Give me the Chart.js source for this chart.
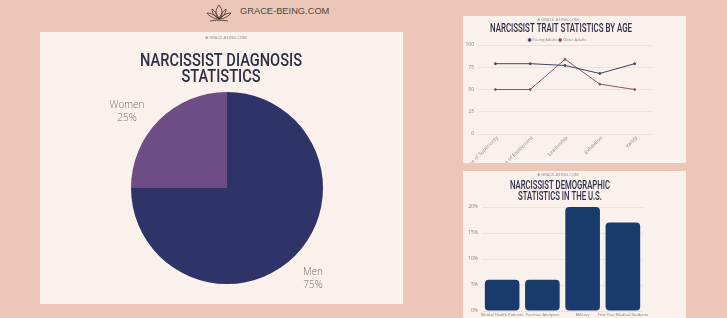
<!DOCTYPE html>
<html>
<head>
<meta charset="utf-8">
<script src="https://cdn.jsdelivr.net/npm/chart.js@4.4.0/dist/chart.umd.min.js"></script>
<style>
  body { margin: 0; width: 727px; height: 318px; overflow: hidden; background: #ecc6b7; position: relative; font-family: "Open Sans", sans-serif; }
  .panel { position: absolute; background: #fbf1ec; }
  .logo { position: absolute; color: #4d4848; font-family: "Liberation Sans", sans-serif; }
  .mini { position: absolute; font-size: 4px; color: #8a8a8a; letter-spacing: 0.1px; white-space: nowrap; }
  canvas { display: block; }
</style>
</head>
<body>

<div class="logo" style="left:204px; top:2px;">
  <svg width="30" height="22" viewBox="0 0 30 22">
    <g fill="none" stroke="#3d2b26" stroke-width="0.8">
      <path d="M15 3 C11 8 11 13 15 17 C19 13 19 8 15 3 Z"/>
      <path d="M15 17 C11 15 8 11 8 7 C11 9 13 12 15 17"/>
      <path d="M15 17 C19 15 22 11 22 7 C19 9 17 12 15 17"/>
      <path d="M15 17 C10 17 5 14 3 11 C7 11 11 13 15 17"/>
      <path d="M15 17 C20 17 25 14 27 11 C23 11 19 13 15 17"/>
      <path d="M6 19 C10 18 20 18 24 19"/>
    </g>
  </svg>
</div>
<div class="logo" style="left:240px; top:6px; font-size:9.3px;">GRACE-BEING.COM</div>

<div class="panel" style="left:40px; top:32px; width:363px; height:272px;">
  <canvas id="pieChart" width="363" height="272"></canvas>
</div>
<div class="mini" style="left:205px; top:35px;">&#10048; GRACE-BEING.COM</div>

<div class="panel" style="left:463px; top:16px; width:223px; height:147px;">
  <canvas id="lineChart" width="223" height="147"></canvas>
</div>
<div class="mini" style="left:537px; top:17px;">&#10048; GRACE-BEING.COM</div>

<div class="panel" style="left:463px; top:171px; width:223px; height:147px;">
  <canvas id="barChart" width="223" height="147"></canvas>
</div>
<div class="mini" style="left:537px; top:172px;">&#10048; GRACE-BEING.COM</div>

<script>
// pie: diagnosis by gender
const pieLabels = ['Men', 'Women'];
const pieShares = [75, 25];

// line: traits by age
const traitLabels = ['Sense of Superiority', 'Sense of Entitlement', 'Leadership', 'Exhibition', 'Vanity'];
const youngAdults = [79, 79, 77, 68, 79];
const olderAdults = [50, 50, 84, 56, 50];

// bar: demographic groups
const groupLabels = ['Mental Health Patients', 'Forensic Analyses', 'Military', 'First Year Medical Students'];
const groupShares = [6, 6, 20, 17];
const percentTicks = [0, 5, 10, 15, 20];

const navyText = '#2b2e45';

// tall condensed title, squeezed to the width it has in the poster
const condensedTitle = {
    id: 'condensedTitle',
    afterDraw(chart, args, opts) {
        const ctx = chart.ctx;
        ctx.save();
        ctx.font = '500 ' + opts.size + 'px Roboto';
        ctx.fillStyle = navyText;
        ctx.textAlign = 'center';
        ctx.textBaseline = 'middle';
        const squeeze = opts.width / ctx.measureText(opts.lines[0]).width;
        ctx.translate(opts.x, 0);
        ctx.scale(squeeze, 1);
        opts.lines.forEach((t, i) => ctx.fillText(t, 0, opts.y + i * opts.gap));
        ctx.restore();
    }
};

// 45 degree category labels under the line chart
// (drawn at 10px and scaled down, tiny rotated text renders badly otherwise)
const slantedTicks = {
    id: 'slantedTicks',
    afterDraw(chart) {
        const sx = chart.scales.x;
        const ctx = chart.ctx;
        ctx.save();
        ctx.font = '10px "Open Sans"';
        ctx.fillStyle = '#888';
        ctx.textAlign = 'right';
        ctx.textBaseline = 'middle';
        chart.data.labels.forEach((lab, i) => {
            ctx.save();
            ctx.translate(sx.getPixelForValue(i) + 2, sx.top + 3);
            ctx.rotate(-Math.PI / 4);
            ctx.scale(0.5, 0.5);
            ctx.fillText(lab, 0, 0);
            ctx.restore();
        });
        ctx.restore();
    }
};

const outsideLabels = {
    id: 'outsideLabels',
    afterDatasetsDraw(chart) {
        const ctx = chart.ctx;
        const meta = chart.getDatasetMeta(0);
        ctx.save();
        ctx.font = '300 10px "Open Sans"';
        ctx.fillStyle = '#77706c';
        ctx.textAlign = 'center';
        ctx.textBaseline = 'middle';
        meta.data.forEach((arc, i) => {
            const mid = (arc.startAngle + arc.endAngle) / 2;
            const x = arc.x + Math.cos(mid) * arc.outerRadius * 1.37 - 7;
            const y = arc.y + Math.sin(mid) * arc.outerRadius * 1.23 + 7;
            ctx.fillText(pieLabels[i], x, y - 6);
            ctx.fillText(pieShares[i] + '%', x, y + 7);
        });
        ctx.restore();
    }
};

new Chart(document.getElementById('pieChart'), {
    type: 'pie',
    data: {
        labels: pieLabels,
        datasets: [{
            data: pieShares,
            backgroundColor: ['#2e3468', '#6e4c86'],
            borderWidth: 0
        }]
    },
    options: {
        responsive: false,
        animation: false,
        devicePixelRatio: 1,
        layout: { padding: { left: 11, right: 0, top: 60, bottom: 20 } },
        plugins: {
            legend: { display: false },
            tooltip: { enabled: false },
            condensedTitle: { lines: ['NARCISSIST DIAGNOSIS', 'STATISTICS'], size: 19, width: 162, x: 181, y: 29, gap: 16.6 }
        }
    },
    plugins: [outsideLabels, condensedTitle]
});

const tinyTicks = { size: 5, family: '"Open Sans"' };

new Chart(document.getElementById('lineChart'), {
    type: 'line',
    data: {
        labels: traitLabels,
        datasets: [
            {
                label: 'Young Adults',
                data: youngAdults,
                borderColor: '#3e4461',
                backgroundColor: '#3e4461',
                borderWidth: 1,
                pointRadius: 1,
                tension: 0
            },
            {
                label: 'Older Adults',
                data: olderAdults,
                borderColor: '#8c5468',
                backgroundColor: '#8c5468',
                borderWidth: 1,
                pointRadius: 1,
                tension: 0
            }
        ]
    },
    options: {
        responsive: false,
        animation: false,
        devicePixelRatio: 1,
        layout: { padding: { left: 0, right: 34, top: 20, bottom: 0 } },
        plugins: {
            tooltip: { enabled: false },
            condensedTitle: { lines: ['NARCISSIST TRAIT STATISTICS BY AGE'], size: 12, width: 142, x: 98, y: 13, gap: 0 },
            legend: {
                maxHeight: 9,
                labels: {
                    usePointStyle: true,
                    pointStyle: 'circle',
                    boxWidth: 2,
                    boxHeight: 2,
                    padding: 2,
                    color: '#888',
                    font: { size: 4, family: '"Open Sans"' }
                }
            }
        },
        scales: {
            x: {
                offset: true,
                grid: { display: false, drawTicks: false },
                border: { display: false },
                ticks: { display: false },
                afterFit(scale) { scale.height = 29; scale.paddingLeft = 0; scale.paddingRight = 0; }
            },
            y: {
                min: 0,
                max: 100,
                ticks: { stepSize: 25, color: '#888', font: tinyTicks, padding: 4 },
                grid: { color: '#ece2dd', drawTicks: false },
                border: { display: false },
                afterFit(scale) { scale.width = 15; }
            }
        }
    },
    plugins: [condensedTitle, slantedTicks]
});

new Chart(document.getElementById('barChart'), {
    type: 'bar',
    data: {
        labels: groupLabels,
        datasets: [{
            label: 'Share',
            data: groupShares,
            backgroundColor: '#183b6b',
            borderRadius: 4,
            borderSkipped: false,
            barPercentage: 0.86,
            categoryPercentage: 1
        }]
    },
    options: {
        responsive: false,
        animation: false,
        devicePixelRatio: 1,
        layout: { padding: { left: 0, right: 43, top: 36, bottom: 0 } },
        plugins: {
            legend: { display: false },
            tooltip: { enabled: false },
            condensedTitle: { lines: ['NARCISSIST DEMOGRAPHIC', 'STATISTICS IN THE U.S.'], size: 12, width: 100, x: 97, y: 14.5, gap: 11 }
        },
        scales: {
            x: {
                grid: { display: false, drawTicks: false },
                border: { display: false },
                ticks: { color: '#777', font: { size: 4, family: '"Open Sans"' }, maxRotation: 0, minRotation: 0, autoSkip: false, padding: 1 },
                afterFit(scale) { scale.height = 7; scale.paddingLeft = 0; scale.paddingRight = 0; }
            },
            y: {
                min: 0,
                max: 20,
                afterBuildTicks(scale) { scale.ticks = percentTicks.map(v => ({ value: v })); },
                ticks: { color: '#888', font: tinyTicks, padding: 4, callback: v => v + '%' },
                grid: { color: '#ece2dd', drawTicks: false },
                border: { display: false },
                afterFit(scale) { scale.width = 19; }
            }
        }
    },
    plugins: [condensedTitle]
});
</script>
</body>
</html>
